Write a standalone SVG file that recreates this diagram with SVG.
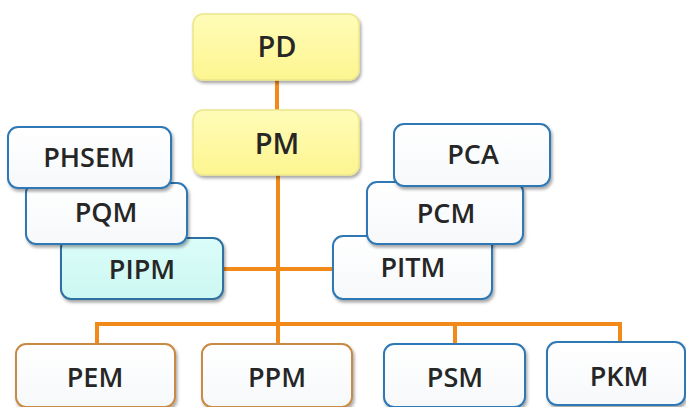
<svg xmlns="http://www.w3.org/2000/svg" width="686" height="407" viewBox="0 0 686 407">
<defs>
<filter id="sh" x="-10%" y="-10%" width="125%" height="130%">
<feDropShadow dx="1.5" dy="2.5" stdDeviation="1.8" flood-color="#000" flood-opacity="0.35"/>
</filter>
<linearGradient id="gy" x1="0" y1="0" x2="0" y2="1">
<stop offset="0" stop-color="#fffcb8"/>
<stop offset="1" stop-color="#fdf590"/>
</linearGradient>
<linearGradient id="gw" x1="0" y1="0" x2="0" y2="1">
<stop offset="0" stop-color="#ffffff"/>
<stop offset="1" stop-color="#f6f8fa"/>
</linearGradient>
<linearGradient id="gc" x1="0" y1="0" x2="0" y2="1">
<stop offset="0" stop-color="#dcfdf9"/>
<stop offset="1" stop-color="#ccf7f2"/>
</linearGradient>
</defs>
<style>
rect{filter:url(#sh)}
.y{fill:url(#gy);stroke:#ece68a;stroke-width:1.5}
.b{fill:url(#gw);stroke:#2f78b5;stroke-width:2}
.c{fill:url(#gc);stroke:#2f6f9f;stroke-width:2}
.o{fill:url(#gw);stroke:#c98a45;stroke-width:2}
text{font-family:"Open Sans","Noto Sans","Liberation Sans",sans-serif;font-weight:600;fill:#262626;text-anchor:middle;font-size:27px}
.big{font-size:29px}
.ln{fill:none;stroke:#f28a1a;stroke-width:4}
</style>
<g id="connectors">
<line class="ln" x1="277" y1="80" x2="277" y2="110"/>
<line class="ln" x1="278" y1="175" x2="278" y2="346" stroke-width="5"/>
<line class="ln" x1="223" y1="269" x2="334" y2="269"/>
<polyline class="ln" points="97,345 97,324 620,324 620,343"/>
<line class="ln" x1="455" y1="324" x2="455" y2="345"/>
</g>
<g id="PD"><rect class="y" x="193" y="14" width="166" height="66" rx="10"/><text class="big" x="277" y="57">PD</text></g>
<g id="PM"><rect class="y" x="193" y="110" width="166" height="65" rx="10"/><text class="big" x="277" y="154">PM</text></g>
<g id="PIPM"><rect class="c" x="61" y="238" width="162" height="61" rx="10"/><text x="142" y="279">PIPM</text></g>
<g id="PQM"><rect class="b" x="26" y="183" width="161" height="61" rx="10"/><text x="106" y="222">PQM</text></g>
<g id="PHSEM"><rect class="b" x="8" y="127" width="163" height="61" rx="10"/><text x="89" y="167">PHSEM</text></g>
<g id="PITM"><rect class="b" x="333" y="236" width="159" height="63" rx="10"/><text x="413" y="277">PITM</text></g>
<g id="PCM"><rect class="b" x="367" y="182" width="156" height="62" rx="10"/><text x="446" y="223">PCM</text></g>
<g id="PCA"><rect class="b" x="394" y="124" width="156" height="62" rx="10"/><text x="473" y="164">PCA</text></g>
<g id="PEM"><rect class="o" x="16" y="344" width="159" height="63" rx="10"/><text x="95" y="387">PEM</text></g>
<g id="PPM"><rect class="o" x="202" y="344" width="150" height="63" rx="10"/><text x="277" y="387">PPM</text></g>
<g id="PSM"><rect class="b" x="384" y="344" width="141" height="63" rx="10"/><text x="455" y="387">PSM</text></g>
<g id="PKM"><rect class="b" x="547" y="342" width="138" height="63" rx="10"/><text x="619" y="386">PKM</text></g>
</svg>
